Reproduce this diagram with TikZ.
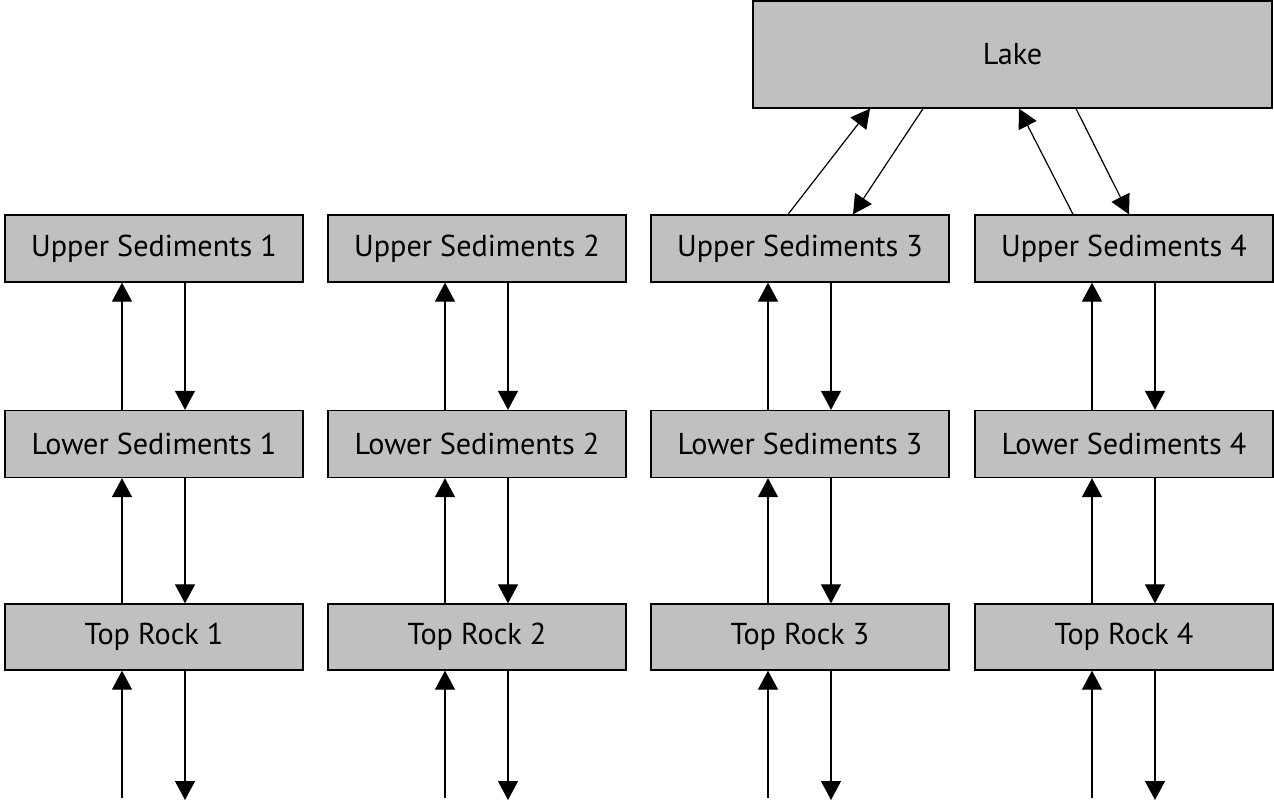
\documentclass[tikz,border=0pt]{standalone}
\usepackage{fontspec}
\setmainfont{PT Sans}
\usetikzlibrary{arrows.meta}
\definecolor{boxgray}{RGB}{192,192,192}
\begin{document}
\begin{tikzpicture}[x=1pt,y=-1pt,
  layer/.style={draw=black, fill=boxgray, line width=1.3pt, minimum width=298pt,
    minimum height=67pt, inner sep=0pt, font=\fontsize{30.2}{32}\selectfont},
  flow/.style={line width=1.2pt, -{Triangle[width=20pt,length=19pt]}}]
\useasboundingbox (0,0) rectangle (1274,802);

% lake at the top
\node[layer, minimum width=519pt, minimum height=107pt] (lake) at (1012.5,54.5) {Lake};

% four sediment/rock columns
\foreach \i/\cx in {1/154,2/477,3/800,4/1124}{
  \node[layer] (U\i) at (\cx,248.5) {Upper Sediments \i};
  \node[layer] (L\i) at (\cx,444) {Lower Sediments \i};
  \node[layer, minimum height=66pt] (T\i) at (\cx,637) {Top Rock \i};
  \coordinate (in\i) at (\cx-32,798);
  \coordinate (out\i) at (\cx+31,800);
  \draw[flow] ([xshift=-32pt]L\i.north) -- ([xshift=-32pt]U\i.south);
  \draw[flow] ([xshift=31pt]U\i.south) -- ([xshift=31pt]L\i.north);
  \draw[flow] ([xshift=-32pt]T\i.north) -- ([xshift=-32pt]L\i.south);
  \draw[flow] ([xshift=31pt]L\i.south) -- ([xshift=31pt]T\i.north);
  \draw[flow] (in\i) -- ([xshift=-32pt]T\i.south);
  \draw[flow] ([xshift=31pt]T\i.south) -- (out\i);
}

% exchange between the lake and the upper sediments
\draw[flow] ([xshift=-12pt]U3.north) -- ([xshift=-142.5pt]lake.south);
\draw[flow] ([xshift=-89.5pt]lake.south) -- ([xshift=53pt]U3.north);
\draw[flow] ([xshift=-51pt]U4.north) -- ([xshift=6.5pt]lake.south);
\draw[flow] ([xshift=63.5pt]lake.south) -- ([xshift=5pt]U4.north);
\end{tikzpicture}
\end{document}
